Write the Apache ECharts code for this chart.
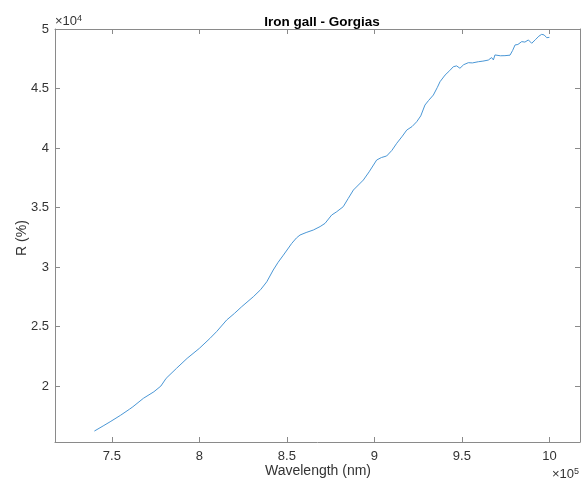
<!DOCTYPE html>
<html><head><meta charset="utf-8">
<script src="https://cdn.jsdelivr.net/npm/echarts@6/dist/echarts.min.js"></script>
<style>html,body{margin:0;padding:0;background:#fff}#c{width:585px;height:483px}</style>
</head><body><div id="c"></div>
<script>
// Wavelength (nm) and R values
const wavelength = [740000,745000,749000,755000,760000,762000,768000,774000,778000,781000,787000,793000,800000,806000,810000,815600,820000,824200,830800,835000,838500,842200,845000,848000,852800,855500,857500,861000,865100,869000,871800,875600,878500,882200,885000,888000,893700,897000,901300,904000,907000,910000,912800,916000,918500,921500,924200,926500,928900,931000,933700,936000,937500,940400,943000,945100,947000,948900,951000,953700,956000,959400,962000,965100,967000,968000,968900,972000,974600,977500,979000,980400,982000,984200,986000,988000,989900,992000,994000,995600,997000,998500,1000000];
const reflectance = [16220,16650,17000,17550,18050,18260,18970,19520,20000,20650,21500,22330,23170,24000,24600,25550,26100,26670,27500,28100,28760,29750,30400,31000,31990,32450,32690,32900,33110,33400,33670,34370,34650,35070,35750,36470,37310,38000,38990,39200,39330,39800,40400,41000,41510,41800,42210,42700,43610,44000,44450,45100,45570,46130,46500,46830,46900,46700,47000,47170,47150,47250,47300,47390,47600,47400,47820,47750,47760,47800,48200,48660,48700,48940,48900,49080,48800,49100,49400,49550,49500,49270,49300];
const xTicks = [750000,800000,850000,900000,950000,1000000];
const yTicks = [20000,25000,30000,35000,40000,45000,50000];

const AX = '#8a8a8a', TX = '#333333';
const FONT = 'Liberation Sans, Arial, Helvetica, sans-serif';
const xMin = 717500, xMax = 1017500, yMin = 15300, yMax = 50000;

function xAx(pos, show) {
  return {
    type: 'value', position: pos, min: xMin, max: xMax,
    axisLine: {show: true, onZero: false, lineStyle: {color: AX, width: 1}},
    axisTick: {show: true, inside: true, length: 5, customValues: xTicks, lineStyle: {color: AX}},
    axisLabel: {show: show, customValues: xTicks, margin: 8, color: TX, fontSize: 13, fontFamily: FONT,
      formatter: v => String(+(v / 1e5).toFixed(2))},
    splitLine: {show: false}
  };
}
function yAx(pos, show) {
  return {
    type: 'value', position: pos, min: yMin, max: yMax,
    axisLine: {show: true, onZero: false, lineStyle: {color: AX, width: 1}},
    axisTick: {show: true, inside: true, length: 5, customValues: yTicks, lineStyle: {color: AX}},
    axisLabel: {show: show, customValues: yTicks, margin: 6, color: TX, fontSize: 13, fontFamily: FONT,
      formatter: v => String(+(v / 1e4).toFixed(2))},
    splitLine: {show: false}
  };
}

const chart = echarts.init(document.getElementById('c'), null, {renderer: 'canvas'});
chart.setOption({
  animation: false,
  backgroundColor: '#ffffff',
  title: {text: 'Iron gall - Gorgias', left: 317, top: 10, textAlign: 'center',
    textStyle: {fontSize: 13.5, fontWeight: 'bold', color: '#000', fontFamily: FONT}},
  grid: {left: 55, top: 29, right: 5, bottom: 41, containLabel: false, outerBoundsMode: 'none'},
  xAxis: [xAx('bottom', true), xAx('top', false)],
  yAxis: [yAx('left', true), yAx('right', false)],
  series: [{
    type: 'line', xAxisIndex: 0, yAxisIndex: 0,
    data: wavelength.map((w, i) => [w, reflectance[i]]),
    showSymbol: false, smooth: false,
    lineStyle: {color: '#4a97d6', width: 1}
  }],
  graphic: [
    {type: 'text', x: 318, y: 471, style: {text: 'Wavelength (nm)', fill: TX, font: '14px ' + FONT,
      align: 'center', verticalAlign: 'middle'}},
    {type: 'text', x: 22, y: 238, rotation: Math.PI / 2, style: {text: 'R (%)', fill: TX, font: '14px ' + FONT,
      align: 'center', verticalAlign: 'middle'}},
    {type: 'text', left: 55, top: 14, style: {text: '×10{s|4}', fill: TX,
      font: '13px ' + FONT, rich: {s: {fontSize: 9, verticalAlign: 'top', fill: TX, padding: [0,0,6,0]}}}},
    {type: 'text', left: 552, top: 467, style: {text: '×10{s|5}', fill: TX,
      font: '13px ' + FONT, rich: {s: {fontSize: 9, verticalAlign: 'top', fill: TX, padding: [0,0,6,0]}}}}
  ]
});
</script></body></html>
